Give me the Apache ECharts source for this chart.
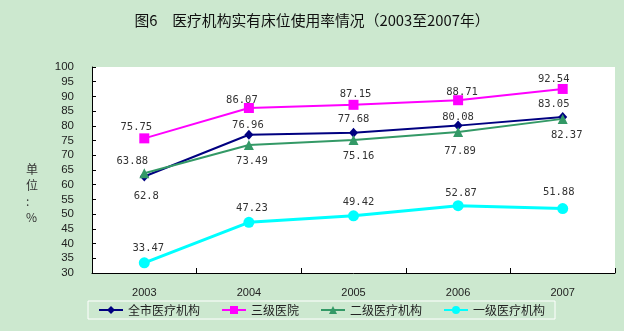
<!DOCTYPE html>
<html>
<head>
<meta charset="utf-8">
<script src="https://cdn.jsdelivr.net/npm/echarts@6/dist/echarts.min.js"></script>
<style>
html,body{margin:0;padding:0;background:#cce8cf;}
#c{width:624px;height:331px;}
</style>
</head>
<body>
<div id="c"></div>
<script>
const years = ['2003', '2004', '2005', '2006', '2007'];
const seriesNames = ['全市医疗机构', '三级医院', '二级医疗机构', '一级医疗机构'];
const allInst = [62.8, 76.96, 77.68, 80.08, 83.05];
const tier3 = [75.75, 86.07, 87.15, 88.71, 92.54];
const tier2 = [63.88, 73.49, 75.16, 77.89, 82.37];
const tier1 = [33.47, 47.23, 49.42, 52.87, 51.88];
const yTicks = { min: 30, max: 100, interval: 5 };

// label offsets (style only): [dx, dy] from point centre
const offAll = [[2, 20], [-1, -10], [0, -13], [0, -8], [-9, -13]];
const off3 = [[-8, -11], [-7, -8], [2, -11], [4, -8], [-9, -10]];
const off2 = [[-12, -12], [3, 16], [5, 16], [2, 19], [4, 16]];
const off1 = [[4, -15], [3, -14], [5, -14], [3, -12], [-4, -16]];

const labelFont = { fontFamily: 'DejaVu Sans Mono', fontSize: 10.5, color: '#333' };

function build(values, offs) {
  return values.map((v, i) => ({
    value: v,
    label: Object.assign({ show: true, position: 'inside', offset: offs[i], formatter: String(v) }, labelFont)
  }));
}

const chart = echarts.init(document.getElementById('c'));
chart.setOption({
  backgroundColor: '#cce8cf',
  animation: false,
  title: {
    text: '图6　医疗机构实有床位使用率情况（2003至2007年）',
    left: 'center',
    top: 8,
    textStyle: { fontFamily: 'Noto Sans CJK SC', fontSize: 14.8, fontWeight: 'normal', color: '#111' }
  },
  graphic: [{
    type: 'text',
    left: 26,
    top: 162,
    style: {
      text: '单\n位\n:\n%',
      font: '12px "Noto Sans CJK SC"',
      fill: '#333',
      lineHeight: 15.7,
      align: 'center'
    }
  }],
  legend: {
    data: seriesNames,
    left: 88,
    top: 301,
    orient: 'horizontal',
    padding: [3, 10],
    itemGap: 21,
    itemWidth: 24,
    itemHeight: 10,
    borderColor: '#ffffff',
    borderWidth: 1,
    textStyle: { fontFamily: 'Noto Sans CJK SC', fontSize: 12, color: '#222' }
  },
  grid: {
    left: 92, right: 9, top: 67, bottom: 58,
    show: true, backgroundColor: '#ffffff', borderWidth: 0
  },
  xAxis: {
    type: 'category',
    data: years,
    boundaryGap: true,
    axisLine: { lineStyle: { color: '#000', width: 1 } },
    axisTick: { show: true, inside: true, length: 5, lineStyle: { color: '#000' } },
    axisLabel: { margin: 14, fontFamily: 'Liberation Sans', fontSize: 11, color: '#222' },
    splitLine: { show: false }
  },
  yAxis: {
    type: 'value',
    min: yTicks.min,
    max: yTicks.max,
    interval: yTicks.interval,
    axisLine: { show: true, lineStyle: { color: '#000', width: 1 } },
    axisTick: { show: true, inside: true, length: 4, lineStyle: { color: '#000' } },
    axisLabel: { margin: 18, fontFamily: 'Liberation Sans', fontSize: 11.5, color: '#222' },
    splitLine: { show: false }
  },
  series: [
    {
      name: seriesNames[0], type: 'line', data: build(allInst, offAll),
      symbol: 'diamond', symbolSize: [9, 10],
      lineStyle: { color: '#000080', width: 2 },
      itemStyle: { color: '#000080' }
    },
    {
      name: seriesNames[1], type: 'line', data: build(tier3, off3),
      symbol: 'rect', symbolSize: 10,
      lineStyle: { color: '#ff00ff', width: 2 },
      itemStyle: { color: '#ff00ff' }
    },
    {
      name: seriesNames[2], type: 'line', data: build(tier2, off2),
      symbol: 'triangle', symbolSize: 10,
      lineStyle: { color: '#339966', width: 2 },
      itemStyle: { color: '#339966' }
    },
    {
      name: seriesNames[3], type: 'line', data: build(tier1, off1),
      symbol: 'circle', symbolSize: 11,
      lineStyle: { color: '#00ffff', width: 3 },
      itemStyle: { color: '#00ffff' }
    }
  ]
});
</script>
</body>
</html>
